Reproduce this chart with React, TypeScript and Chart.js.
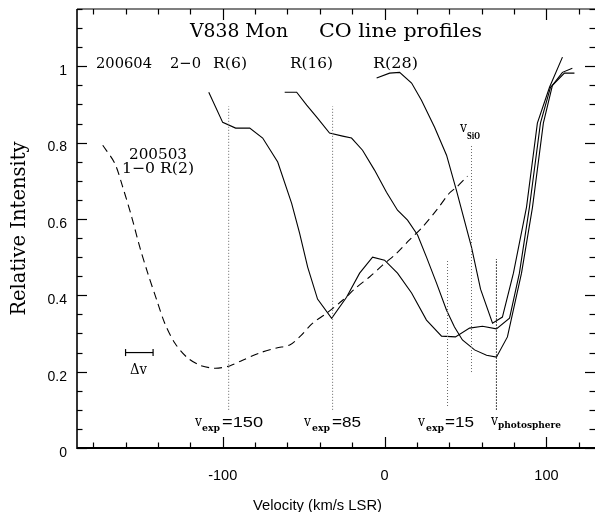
import React, { useEffect, useRef } from 'react';
import { Chart, registerables } from 'chart.js';

Chart.register(...registerables);

// ---- Data (velocity in km/s LSR, relative intensity) ----
const r6Velocity = [-108.6, -100.0, -92.0, -83.3, -75.3, -66.0, -57.4, -52.5, -47.5, -41.4, -32.7, -23.5, -15.4, -7.4, 0.0, 8.0, 16.7, 25.9, 35.2, 43.8, 52.5, 60.5, 69.1, 77.2, 83.3, 89.5, 96.3, 102.5, 111.1, 117.3];
const r6Intensity = [0.932, 0.853, 0.838, 0.838, 0.812, 0.749, 0.641, 0.563, 0.474, 0.390, 0.340, 0.395, 0.458, 0.500, 0.492, 0.458, 0.406, 0.335, 0.293, 0.291, 0.314, 0.319, 0.312, 0.340, 0.458, 0.631, 0.851, 0.945, 0.982, 0.982];

const r16Velocity = [-61.7, -54.3, -48.1, -41.4, -34.0, -25.9, -20.4, -13.6, -6.2, 1.2, 8.0, 14.2, 20.4, 25.9, 32.1, 38.3, 43.2, 48.1, 55.6, 63.0, 69.1, 75.9, 84.6, 91.4, 98.1, 103.7, 109.9, 116.0];
const r16Intensity = [0.932, 0.932, 0.898, 0.864, 0.825, 0.817, 0.812, 0.780, 0.728, 0.670, 0.623, 0.597, 0.558, 0.500, 0.432, 0.361, 0.317, 0.283, 0.257, 0.243, 0.238, 0.291, 0.458, 0.631, 0.851, 0.950, 0.984, 0.995];

const r28Velocity = [-4.9, 3.1, 9.3, 16.7, 22.8, 30.9, 38.3, 44.4, 53.7, 59.3, 66.7, 72.8, 79.6, 87.7, 94.4, 101.9, 109.9];
const r28Intensity = [0.969, 0.982, 0.984, 0.956, 0.911, 0.840, 0.767, 0.675, 0.526, 0.416, 0.327, 0.343, 0.458, 0.631, 0.851, 0.945, 1.024];

const r2Velocity = [-174.1, -166.7, -161.7, -156.2, -151.2, -146.3, -140.7, -135.8, -129.6, -122.2, -114.2, -104.9, -95.7, -87.7, -77.2, -66.7, -58.6, -52.5, -44.4, -35.8, -25.9, -17.3, -9.3, -1.2, 7.4, 15.4, 23.5, 32.1, 40.1, 44.4, 51.2];
const r2Intensity = [0.793, 0.746, 0.683, 0.605, 0.526, 0.458, 0.387, 0.327, 0.275, 0.238, 0.217, 0.209, 0.215, 0.230, 0.249, 0.262, 0.270, 0.291, 0.327, 0.353, 0.387, 0.421, 0.448, 0.479, 0.510, 0.545, 0.579, 0.623, 0.668, 0.683, 0.712];

// Marker lines: velocity, lower and upper intensity
const markerNames = ['v_exp=150', 'v_exp=85', 'v_exp=15', 'v_SiO', 'v_photosphere'];
const markerVelocity = [-96.3, -32.1, 38.9, 53.7, 69.1];
const markerLow = [0.10, 0.10, 0.11, 0.199, 0.10];
const markerHigh = [0.895, 0.895, 0.495, 0.793, 0.495];

// Resolution bar (Δv)
const deltaVVelocity = [-160, -143];
const deltaVIntensity = [0.25, 0.25];

// Axes
const xMin = -190;
const xMax = 130;
const yMin = 0;
const yMax = 1.15;
const xTickStep = 100;
const yTickStep = 0.2;

const pts = (xs: number[], ys: number[]) => xs.map((x, i) => ({ x, y: ys[i] }));

const SERIF = 'DejaVu Serif';
const SANS = 'Liberation Sans';

function fitText(ctx: CanvasRenderingContext2D, text: string, x: number, baseline: number, width: number, font: string) {
  ctx.save();
  ctx.font = font;
  ctx.textAlign = 'left';
  ctx.textBaseline = 'alphabetic';
  const w = ctx.measureText(text).width;
  ctx.translate(x, baseline);
  ctx.scale(width / w, 1);
  ctx.fillStyle = '#000';
  ctx.fillText(text, 0, 0);
  ctx.restore();
}

const zeroPad = (s: any) => {
  s.paddingTop = 0;
  s.paddingBottom = 0;
  s.paddingLeft = 0;
  s.paddingRight = 0;
};

const framePlugin = {
  id: 'frameAndLabels',
  afterDraw(chart: any) {
    const { ctx, chartArea: a, scales } = chart;
    const xs = scales.x;
    const ys = scales.y;
    ctx.save();
    ctx.strokeStyle = '#000';
    const seg = (x1: number, y1: number, x2: number, y2: number, w: number) => {
      ctx.lineWidth = w;
      ctx.beginPath();
      ctx.moveTo(x1, y1);
      ctx.lineTo(x2, y2);
      ctx.stroke();
    };
    // frame
    seg(a.left, a.top, a.left, a.bottom + 1, 1.6);
    seg(a.left, a.bottom, a.right, a.bottom, 2);
    seg(a.left, a.top, a.right, a.top, 1.1);
    seg(a.right + 0.5, a.top, a.right + 0.5, a.bottom, 1);
    // x ticks (minor every 20)
    for (let v = -180; v <= 120; v += 20) {
      const px = Math.round(xs.getPixelForValue(v)) + 0.5;
      const major = v % 100 === 0;
      const len = major ? 11 : 5.5;
      seg(px, a.bottom, px, a.bottom - len, 1.2);
      seg(px, a.top, px, a.top + len, 1.2);
    }
    // y ticks (minor every 0.05)
    for (let i = 0; i <= 23; i++) {
      const v = i * 0.05;
      if (v > yMax + 1e-9) break;
      const py = Math.round(ys.getPixelForValue(v)) + 0.5;
      const major = i % 4 === 0;
      const len = major ? 10 : 5.5;
      seg(a.left, py, a.left + len, py, 1.2);
      seg(a.right, py, a.right - len, py, 1.2);
    }

    // texts
    const f15 = `15px "${SERIF}"`;
    fitText(ctx, 'V838 Mon', 190, 37, 98, `18.5px "${SERIF}"`);
    fitText(ctx, 'CO line profiles', 319, 37, 163, `18.5px "${SERIF}"`);
    fitText(ctx, '200604', 96, 68, 56, f15);
    fitText(ctx, '2\u22120', 170, 68, 31, f15);
    fitText(ctx, 'R(6)', 213, 68, 34, f15);
    fitText(ctx, 'R(16)', 290, 68, 43, f15);
    fitText(ctx, 'R(28)', 373, 68, 45, f15);
    fitText(ctx, '200503', 129, 159, 58, f15);
    fitText(ctx, '1\u22120 R(2)', 122, 173, 72, f15);
    fitText(ctx, '\u0394v', 130, 374, 17, f15);

    const vFont = `15px "${SERIF}"`;
    const subFont = `bold 10px "${SERIF}"`;
    const numFont = `15px "${SANS}"`;
    // v_exp=150
    fitText(ctx, 'v', 195, 426, 7, vFont);
    fitText(ctx, 'exp', 202, 431, 18, subFont);
    fitText(ctx, '=150', 222, 427, 41, numFont);
    // v_exp=85
    fitText(ctx, 'v', 304, 426, 7, vFont);
    fitText(ctx, 'exp', 312, 431, 18, subFont);
    fitText(ctx, '=85', 332, 427, 29, numFont);
    // v_exp=15
    fitText(ctx, 'v', 418, 426, 7, vFont);
    fitText(ctx, 'exp', 426, 431, 18, subFont);
    fitText(ctx, '=15', 445, 427, 29, numFont);
    // v_photosphere
    fitText(ctx, 'v', 491, 425, 7, vFont);
    fitText(ctx, 'photosphere', 498, 428, 63, subFont);
    // v_SiO
    fitText(ctx, 'v', 460, 132, 7, vFont);
    fitText(ctx, 'SiO', 467, 139, 13, subFont);

    // x axis title
    fitText(ctx, 'Velocity (km/s LSR)', 253, 510, 129, `15px "${SANS}"`);
    ctx.restore();
  },
};

export default function App() {
  const ref = useRef<HTMLCanvasElement | null>(null);

  useEffect(() => {
    document.body.style.margin = '0';
    document.body.style.overflow = 'hidden';
    const canvas = ref.current;
    if (!canvas) return;

    const markerSets = markerNames.map((name, i) => ({
      label: name,
      data: [
        { x: markerVelocity[i], y: markerLow[i] },
        { x: markerVelocity[i], y: markerHigh[i] },
      ],
      showLine: true,
      borderColor: i === 4 ? '#111' : '#666',
      borderWidth: 1,
      borderDash: i === 4 ? [1.5, 1.5] : [1, 2],
      pointRadius: 0,
    }));

    const chart = new Chart(canvas, {
      type: 'scatter',
      data: {
        datasets: [
          ...markerSets,
          {
            label: '200503 1-0 R(2)',
            data: pts(r2Velocity, r2Intensity),
            showLine: true,
            borderColor: '#000',
            borderWidth: 1.1,
            borderDash: [8, 5],
            tension: 0.3,
            pointRadius: 0,
          },
          {
            label: 'R(6)',
            data: pts(r6Velocity, r6Intensity),
            showLine: true,
            borderColor: '#000',
            borderWidth: 1.1,
            pointRadius: 0,
          },
          {
            label: 'R(16)',
            data: pts(r16Velocity, r16Intensity),
            showLine: true,
            borderColor: '#000',
            borderWidth: 1.1,
            pointRadius: 0,
          },
          {
            label: 'R(28)',
            data: pts(r28Velocity, r28Intensity),
            showLine: true,
            borderColor: '#000',
            borderWidth: 1.1,
            pointRadius: 0,
          },
          {
            label: 'Δv',
            data: pts(deltaVVelocity, deltaVIntensity),
            showLine: true,
            borderColor: '#000',
            borderWidth: 1.2,
            pointStyle: 'line',
            rotation: 90,
            pointRadius: 3.5,
            pointBorderWidth: 1.2,
            pointBorderColor: '#000',
          },
        ],
      } as any,
      options: {
        responsive: false,
        animation: false,
        events: [],
        layout: { autoPadding: false, padding: { top: 9, right: 0, left: 0, bottom: 0 } },
        plugins: {
          legend: { display: false },
          tooltip: { enabled: false },
        },
        scales: {
          x: {
            type: 'linear',
            min: xMin,
            max: xMax,
            afterFit: (s: any) => {
              s.height = 64;
              zeroPad(s);
            },
            grid: { display: false, drawTicks: false },
            border: { display: false },
            ticks: {
              stepSize: xTickStep,
              includeBounds: false,
              autoSkip: false,
              maxRotation: 0,
              padding: 19,
              color: '#000',
              font: { family: SANS, size: 14.5 },
              callback: (v: any) => String(v),
            },
          },
          y: {
            type: 'linear',
            min: yMin,
            max: yMax,
            afterFit: (s: any) => {
              s.width = 77;
              zeroPad(s);
            },
            grid: { display: false, drawTicks: false },
            border: { display: false },
            ticks: {
              stepSize: yTickStep,
              includeBounds: false,
              autoSkip: false,
              padding: 10,
              labelOffset: 5,
              color: '#000',
              font: { family: SANS, size: 14 },
              callback: (v: any) => String(Math.round(Number(v) * 10) / 10),
            },
            title: {
              display: true,
              text: 'Relative Intensity',
              color: '#000',
              font: { family: SERIF, size: 19.5 },
              padding: { top: 8, bottom: 0 },
            },
          },
        },
      } as any,
      plugins: [framePlugin],
    });

    return () => chart.destroy();
  }, []);

  return <canvas ref={ref} width={595} height={512} style={{ display: 'block' }} />;
}
